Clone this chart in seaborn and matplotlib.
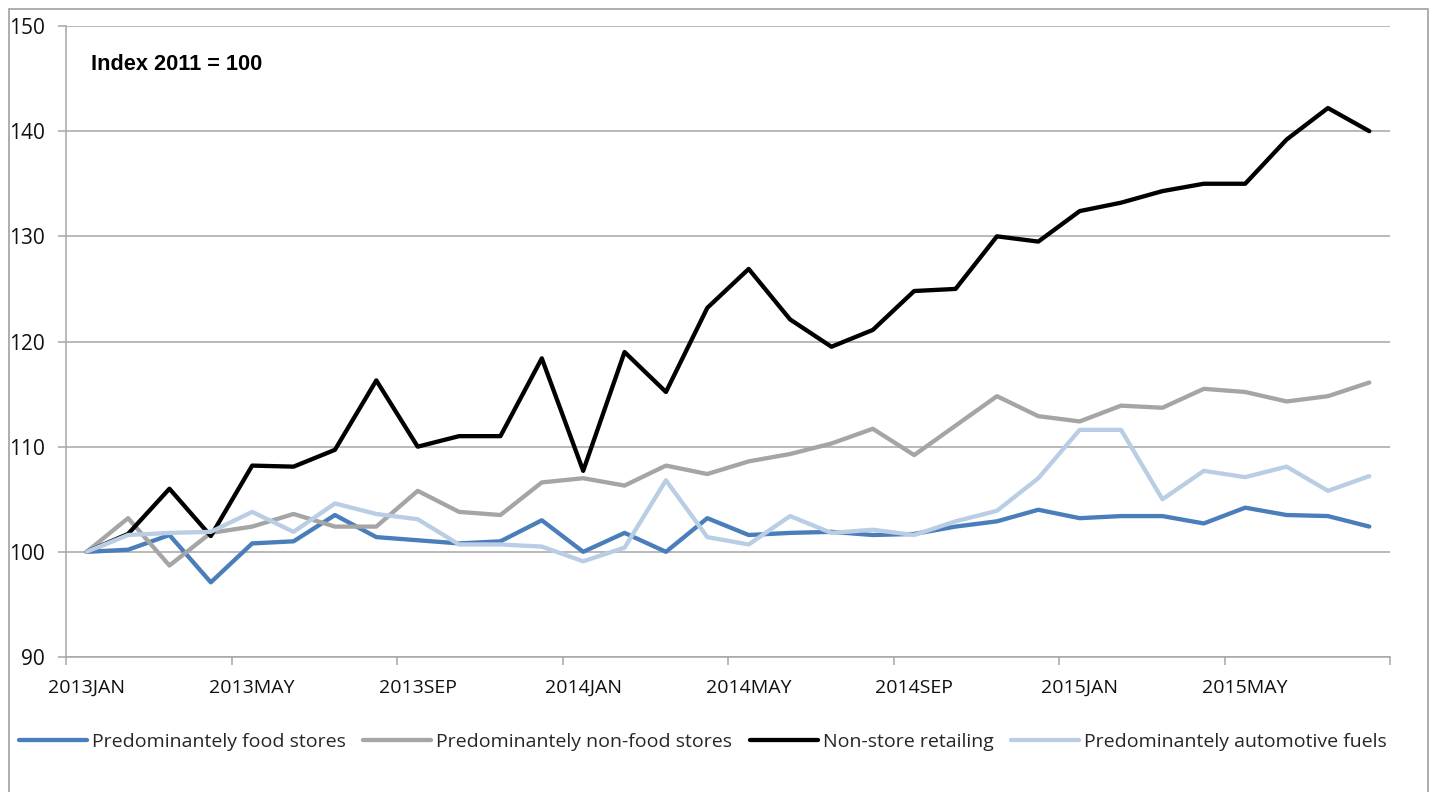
import numpy as np
import pandas as pd
import matplotlib
matplotlib.use("Agg")
import matplotlib.pyplot as plt
from matplotlib.patches import Rectangle
import seaborn as sns

# Monthly retail trade volume indices, 2013JAN - 2015AUG (Index 2011 = 100)
months = ["JAN", "FEB", "MAR", "APR", "MAY", "JUN", "JUL", "AUG", "SEP", "OCT", "NOV", "DEC"]
periods = [f"{y}{m}" for y in (2013, 2014, 2015) for m in months][:32]

food_stores = [100.0, 100.2, 101.6, 97.1, 100.8, 101.0, 103.5, 101.4, 101.1, 100.8,
               101.0, 103.0, 100.0, 101.8, 100.0, 103.2, 101.6, 101.8, 101.9, 101.6,
               101.7, 102.4, 102.9, 104.0, 103.2, 103.4, 103.4, 102.7, 104.2, 103.5,
               103.4, 102.4]
non_food_stores = [100.0, 103.2, 98.7, 101.8, 102.4, 103.6, 102.4, 102.4, 105.8, 103.8,
                   103.5, 106.6, 107.0, 106.3, 108.2, 107.4, 108.6, 109.3, 110.3, 111.7,
                   109.2, 112.0, 114.8, 112.9, 112.4, 113.9, 113.7, 115.5, 115.2, 114.3,
                   114.8, 116.1]
non_store = [100.0, 101.7, 106.0, 101.5, 108.2, 108.1, 109.7, 116.3, 110.0, 111.0,
             111.0, 118.4, 107.7, 119.0, 115.2, 123.2, 126.9, 122.1, 119.5, 121.1,
             124.8, 125.0, 130.0, 129.5, 132.4, 133.2, 134.3, 135.0, 135.0, 139.2,
             142.2, 140.0]
automotive_fuels = [100.0, 101.6, 101.8, 101.9, 103.8, 101.9, 104.6, 103.6, 103.1, 100.7,
                    100.7, 100.5, 99.1, 100.4, 106.8, 101.4, 100.7, 103.4, 101.8, 102.1,
                    101.6, 102.9, 103.9, 107.0, 111.6, 111.6, 105.0, 107.7, 107.1, 108.1,
                    105.8, 107.2]

series_names = ["Predominantely food stores", "Predominantely non-food stores",
                "Non-store retailing", "Predominantely automotive fuels"]
series_values = [food_stores, non_food_stores, non_store, automotive_fuels]
series_colors = ["#4A7EBB", "#A5A5A5", "#000000", "#B9CDE5"]

y_ticks = [90, 100, 110, 120, 130, 140, 150]

frames = []
for name, vals in zip(series_names, series_values):
    frames.append(pd.DataFrame({"pos": np.arange(len(periods)), "period": periods,
                                "value": vals, "series": name}))
df = pd.concat(frames, ignore_index=True)

sns.set_theme(style="white")
plt.rcParams["font.family"] = ["Open Sans", "DejaVu Sans"]

W, H = 1433, 792
fig = plt.figure(figsize=(W / 100, H / 100), dpi=100)
ax = fig.add_axes([66 / W, 1 - 657 / H, (1390 - 66) / W, (657 - 26) / H])

line_w = 3.1
sns.lineplot(data=df, x="pos", y="value", hue="series", hue_order=series_names,
             palette=series_colors, linewidth=line_w, ax=ax, legend=False,
             sort=False)

n = len(periods)
ax.set_xlim(-0.5, n - 0.5)
ax.set_ylim(90, 150)
ax.set_yticks(y_ticks)
ax.set_yticklabels([str(t) for t in y_ticks])

# category boundaries every four months carry the tick marks
ax.set_xticks(np.arange(-0.5, n, 4))
ax.set_xticklabels([])
ax.set_xticks(np.arange(0, n, 4), minor=True)
ax.set_xticklabels([periods[i] for i in range(0, n, 4)], minor=True)

grid_col = "#A6A6A6"
ax.yaxis.grid(True, color=grid_col, linewidth=1.1)
ax.xaxis.grid(False)
ax.set_axisbelow(True)
for s in ("top", "right"):
    ax.spines[s].set_visible(False)
for s in ("left", "bottom"):
    ax.spines[s].set_color(grid_col)
    ax.spines[s].set_linewidth(1.1)

tick_fs = 14
ax.tick_params(axis="y", which="major", left=True, length=6, width=1.1, color=grid_col,
               labelsize=15, labelcolor="#111111", pad=9)
ax.tick_params(axis="x", which="major", bottom=True, length=5.5, width=1.1, color=grid_col)
ax.tick_params(axis="x", which="minor", bottom=True, length=0, labelsize=tick_fs,
               labelcolor="#111111", pad=16)
ax.set_xlabel("")
ax.set_ylabel("")

fig.text(91 / W, 1 - 64 / H, "Index 2011 = 100",
         fontsize=15.7, fontweight="bold", family=["Liberation Sans", "DejaVu Sans"],
         ha="left", va="center", color="#000000")

handles = [plt.Line2D([], [], color=c, linewidth=line_w) for c in series_colors]
fig.legend(handles, series_names, loc="center", bbox_to_anchor=(703 / W, 1 - 742 / H),
           ncol=4, frameon=False, fontsize=tick_fs, handlelength=3.5, handletextpad=0.26,
           columnspacing=0.9)

# outer chart frame
fig.patches.append(Rectangle((8.5 / W, -0.05), (1427.5 - 8.5) / W, 1.05 - 9.5 / H,
                             transform=fig.transFigure, fill=False,
                             edgecolor="#A0A0A0", linewidth=1.2, clip_on=False))

fig.savefig("out.png", dpi=100, facecolor="white")
